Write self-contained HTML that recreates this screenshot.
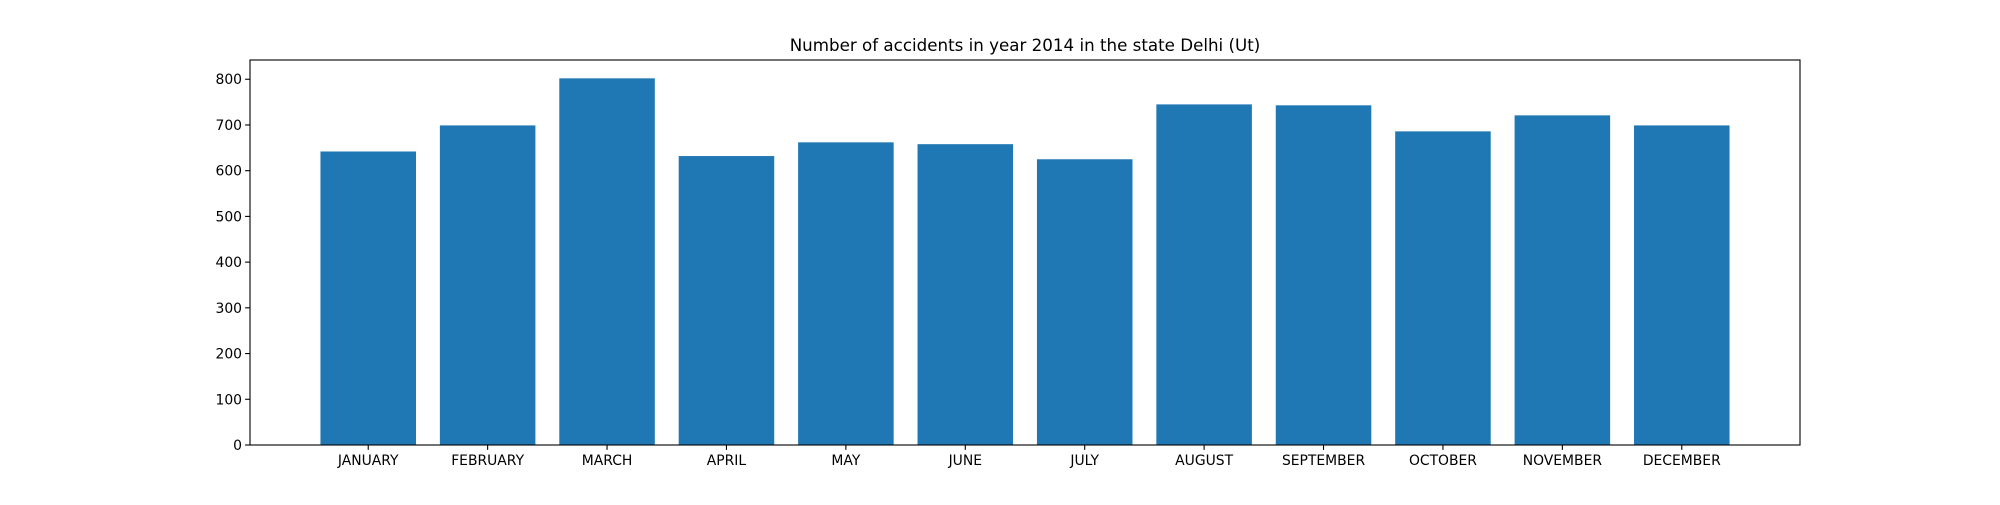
<!DOCTYPE html>
<html><head><meta charset="utf-8"><style>
body{margin:0;background:#fff;}
svg text{font-family:"DejaVu Sans","Liberation Sans",sans-serif;fill:#000;}
</style></head><body>
<svg id="chart" width="2000" height="500" xmlns="http://www.w3.org/2000/svg">
<rect width="2000" height="500" fill="#fff"/>
<text x="1025" y="51" font-size="16.7" text-anchor="middle">Number of accidents in year 2014 in the state Delhi (Ut)</text>
<g id="bars"></g><g id="axes"></g>
</svg>
<script>
const categories=["JANUARY","FEBRUARY","MARCH","APRIL","MAY","JUNE","JULY","AUGUST","SEPTEMBER","OCTOBER","NOVEMBER","DECEMBER"];
const values=[642,699,802,632,662,658,625,745,743,686,721,699];
const yTicks=[0,100,200,300,400,500,600,700,800];
const L=250,R=1800,T=60,B=445,NS="http://www.w3.org/2000/svg";
const ymax=Math.max(...values)*1.05;
const n=categories.length,x0=-0.4-0.05*(n-0.2),x1=n-0.6+0.05*(n-0.2);
const X=v=>L+(v-x0)/(x1-x0)*(R-L);
const Y=v=>B-v/ymax*(B-T);
const bars=document.getElementById('bars'),axes=document.getElementById('axes');
function mk(t,a,p){const e=document.createElementNS(NS,t);for(const k in a)e.setAttribute(k,a[k]);p.appendChild(e);return e;}
values.forEach((v,i)=>{
 const r=mk('rect',{x:X(i-0.4),y:Y(v),width:X(i+0.4)-X(i-0.4),height:B-Y(v),fill:'#1f77b4'},bars);
 
 
 mk('line',{x1:X(i),x2:X(i),y1:B,y2:B+4.9,stroke:'#000','stroke-width':1.1},axes);
 const t=mk('text',{x:X(i),y:B+20,'font-size':13.9,'text-anchor':'middle'},axes);
 t.textContent=categories[i];
 
 
});
yTicks.forEach(v=>{
 mk('line',{x1:L-4.9,x2:L,y1:Y(v),y2:Y(v),stroke:'#000','stroke-width':1.1},axes);
 const t=mk('text',{x:L-8,y:Y(v)+5,'font-size':13.9,'text-anchor':'end'},axes);
 t.textContent=v;
 
 
});
const f=mk('rect',{x:L,y:T,width:R-L,height:B-T,fill:'none',stroke:'#000','stroke-width':1.1},axes);


</script>
</body></html>
